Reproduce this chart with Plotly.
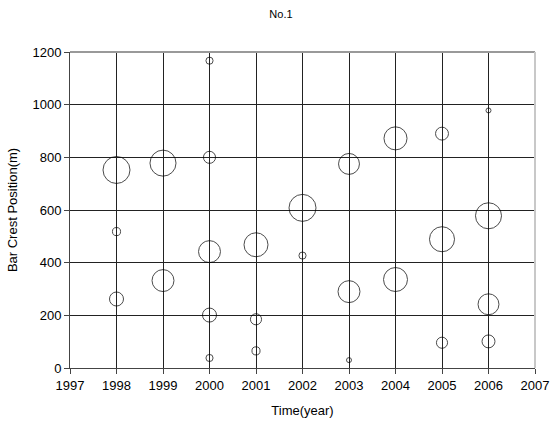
import plotly.graph_objects as go

# Survey years and bar crest positions (m) for profile No.1
years = [1998, 1998, 1998,
         1999, 1999,
         2000, 2000, 2000, 2000, 2000,
         2001, 2001, 2001,
         2002, 2002,
         2003, 2003, 2003,
         2004, 2004,
         2005, 2005, 2005,
         2006, 2006, 2006, 2006]
positions = [752, 518, 262,
             778, 332,
             1167, 800, 442, 201, 38,
             468, 185, 65,
             608, 427,
             775, 290, 30,
             872, 336,
             890, 489, 96,
             978, 578, 242, 101]
# Relative bar volume, shown as bubble area
volumes = [100, 9, 27,
           93, 66,
           7, 20, 66, 27, 7,
           79, 17, 9,
           100, 7,
           60, 66, 3.4,
           73, 79,
           23, 86, 17,
           3.4, 93, 60, 23]

x_ticks = list(range(1997, 2008))
y_ticks = [0, 200, 400, 600, 800, 1000, 1200]

FONT = "Liberation Sans, Arial, sans-serif"
max_d = 27

fig = go.Figure(
    go.Scatter(
        x=years, y=positions, mode="markers",
        marker=dict(
            size=volumes, sizemode="area",
            sizeref=2 * max(volumes) / max_d ** 2,
            color="rgba(0,0,0,0)",
            line=dict(color="#000000", width=1),
        ),
        hoverinfo="x+y",
        showlegend=False,
    )
)

fig.update_layout(
    width=552, height=428,
    margin=dict(l=70, r=17, t=52, b=60),
    paper_bgcolor="white", plot_bgcolor="white",
    font=dict(family=FONT, size=13, color="#000000"),
    title=dict(text="No.1", x=0.509, xanchor="center", y=0.967, yanchor="middle",
               font=dict(size=11)),
    xaxis=dict(
        range=[1997, 2007], tickvals=x_ticks, ticktext=[str(v) for v in x_ticks],
        tickfont=dict(size=13), automargin=False,
        showgrid=True, gridcolor="#222222", gridwidth=1,
        showline=True, linecolor="#444444", linewidth=1,
        ticks="outside", ticklen=5, tickcolor="#444444",
        zeroline=False,
        title=dict(text="Time(year)", standoff=14, font=dict(size=13)),
    ),
    yaxis=dict(
        range=[0, 1200], tickvals=y_ticks,
        tickfont=dict(size=13), automargin=False,
        showgrid=True, gridcolor="#222222", gridwidth=1,
        showline=True, linecolor="#444444", linewidth=1,
        ticks="outside", ticklen=5, tickcolor="#444444",
        zeroline=False,
        title=dict(text="Bar Crest Position(m)", standoff=11, font=dict(size=13)),
    ),
    shapes=[
        # top and right frame lines
        dict(type="line", xref="paper", yref="paper", x0=0, x1=1, y0=1, y1=1,
             line=dict(color="#999999", width=2)),
        dict(type="line", xref="paper", yref="paper", x0=1, x1=1, y0=0, y1=1,
             line=dict(color="#c8c8c8", width=2)),
    ],
)

fig.write_html("out.html")
